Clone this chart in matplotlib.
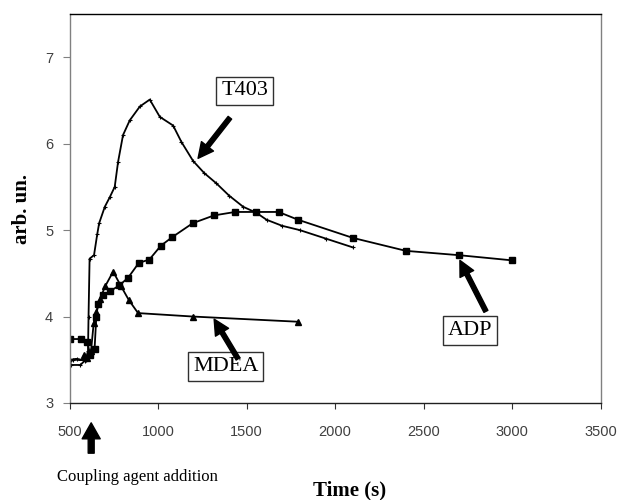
import matplotlib
matplotlib.use('Agg')
import matplotlib.pyplot as plt

# values
t403_time = [500, 540, 585, 560, 505, 498, 520, 590, 603, 606, 612, 637, 655, 666, 698, 726,
             754, 773, 801, 839, 896, 952, 1009, 1084, 1131, 1197, 1260, 1329, 1400, 1480,
             1555, 1612, 1700, 1800, 1950, 2100]
t403_val = [3.50, 3.51, 3.49, 3.44, 3.44, 3.47, 3.50, 3.50, 3.60, 4.00, 4.67, 4.71, 4.95, 5.08,
            5.27, 5.38, 5.50, 5.79, 6.10, 6.27, 6.43, 6.51, 6.31, 6.21, 6.02, 5.80, 5.66, 5.54,
            5.40, 5.27, 5.20, 5.12, 5.05, 5.00, 4.90, 4.80]

adp_time = [500, 565, 600, 615, 640, 650, 660, 690, 725, 780, 830, 890, 950, 1015, 1080, 1195,
            1315, 1435, 1555, 1680, 1790, 2100, 2400, 2700, 3000]
adp_val = [3.74, 3.74, 3.70, 3.56, 3.62, 4.00, 4.15, 4.25, 4.29, 4.36, 4.45, 4.62, 4.66, 4.82,
           4.92, 5.08, 5.17, 5.21, 5.21, 5.21, 5.12, 4.91, 4.76, 4.71, 4.65]

mdea_time = [580, 600, 620, 635, 650, 670, 700, 745, 790, 834, 886, 1197, 1791]
mdea_val = [3.55, 3.52, 3.60, 3.92, 4.05, 4.20, 4.35, 4.52, 4.35, 4.19, 4.04, 4.00, 3.94]

serif = ['Liberation Serif', 'DejaVu Serif']
sans = ['Liberation Sans', 'DejaVu Sans']

fig = plt.figure(figsize=(6.23, 5.0), dpi=100)
ax = fig.add_axes([0.112, 0.194, 0.852, 0.778])

ax.plot(t403_time, t403_val, color='black', lw=1.3, marker='+', markersize=3.5, mew=0.8)
ax.plot(adp_time, adp_val, color='black', lw=1.3, marker='s', markersize=4.5)
ax.plot(mdea_time, mdea_val, color='black', lw=1.3, marker='^', markersize=5)

ax.set_xlim(500, 3500)
ax.set_ylim(3, 7.5)
ax.set_xticks(range(500, 3501, 500))
ax.set_yticks([3, 4, 5, 6, 7])

for lab in ax.get_xticklabels() + ax.get_yticklabels():
    lab.set_family(sans)
    lab.set_fontsize(10.5)
    lab.set_color('#404040')
ax.tick_params(axis='x', direction='out', length=4, pad=12, color='#303030')
ax.tick_params(axis='y', direction='out', length=5, pad=7, color='#808080')

ax.spines['top'].set_color('black')
ax.spines['bottom'].set_color('#202020')
ax.spines['left'].set_color('#808080')
ax.spines['right'].set_color('#808080')
for s in ax.spines.values():
    s.set_linewidth(1.0)

ax.set_ylabel('arb. un.', family=serif, fontsize=15, fontweight='bold', labelpad=9)
ax.text(0.528, -0.224, 'Time (s)', transform=ax.transAxes, ha='center', va='center',
        family=serif, fontsize=15, fontweight='bold')

box = dict(boxstyle='square,pad=0.22', fc='white', ec='#303030', lw=1)
arrow = dict(facecolor='black', edgecolor='black', width=3.2, headwidth=11, headlength=11, shrink=0)

ax.text(1489, 6.61, 'T403', ha='center', va='center', family=serif, fontsize=16, bbox=box)
ax.annotate('', xy=(1225, 5.83), xytext=(1405, 6.30), arrowprops=arrow)

ax.text(1382, 3.42, 'MDEA', ha='center', va='center', family=serif, fontsize=16, bbox=box)
ax.annotate('', xy=(1316, 3.97), xytext=(1451, 3.51), arrowprops=arrow)

ax.text(2761, 3.84, 'ADP', ha='center', va='center', family=serif, fontsize=16, bbox=box)
ax.annotate('', xy=(2705, 4.65), xytext=(2852, 4.06), arrowprops=arrow)

# coupling agent addition marker below the axis
ax.annotate('', xy=(621, -0.051), xytext=(621, -0.129),
            xycoords=('data', 'axes fraction'), textcoords=('data', 'axes fraction'),
            arrowprops=dict(facecolor='black', edgecolor='black', width=4.3,
                            headwidth=13, headlength=11.5, shrink=0),
            annotation_clip=False)
ax.text(-0.0245, -0.19, 'Coupling agent addition', transform=ax.transAxes,
        ha='left', va='center', family=serif, fontsize=12)

fig.savefig('out.png', dpi=100)
